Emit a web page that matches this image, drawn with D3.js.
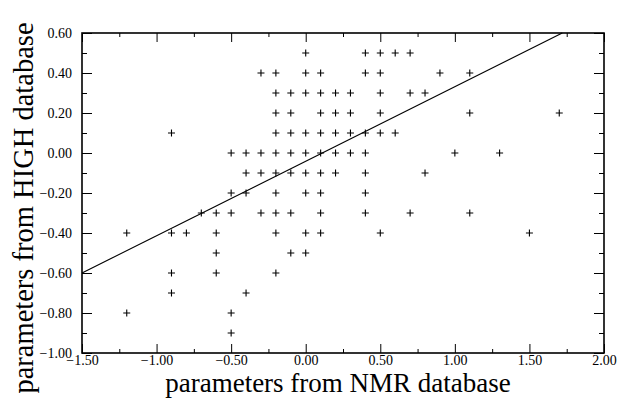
<!DOCTYPE html>
<html>
<head>
<meta charset="utf-8">
<script src="https://cdn.jsdelivr.net/npm/d3@7"></script>
<style>
  body { margin: 0; background: #fff; }
  svg { display: block; font-family: "Liberation Serif", "Times New Roman", serif; }
  .tick text { font-family: "Liberation Serif", "Times New Roman", serif; font-size: 14px; fill: #000; }
  .tick line { stroke: #000; stroke-width: 1; }
  .domain { display: none; }
</style>
</head>
<body>
<div id="chart"></div>
<script>
// NMR parameter (x) and HIGH parameter (y), one row of the plot per line
var nmrParams = [
  0.0, 0.4, 0.5, 0.6, 0.7,
  -0.3, -0.2, 0.0, 0.1, 0.4, 0.5, 0.9, 1.1,
  -0.2, -0.1, 0.0, 0.1, 0.2, 0.3, 0.5, 0.7, 0.8,
  -0.2, -0.1, 0.1, 0.2, 0.3, 0.5, 1.1, 1.7,
  -0.9, -0.2, -0.1, 0.0, 0.1, 0.2, 0.3, 0.4, 0.5, 0.6,
  -0.5, -0.4, -0.3, -0.2, -0.1, 0.0, 0.1, 0.2, 0.3, 0.4, 1.0, 1.3,
  -0.4, -0.3, -0.2, -0.1, 0.0, 0.1, 0.2, 0.4, 0.8,
  -0.5, -0.4, -0.2, 0.0, 0.1, 0.4,
  -0.7, -0.6, -0.5, -0.3, -0.2, -0.1, 0.1, 0.4, 0.7, 1.1,
  -1.2, -0.9, -0.8, -0.6, -0.2, 0.0, 0.1, 0.5, 1.5,
  -0.6, -0.1, 0.0,
  -0.9, -0.6, -0.2,
  -0.9, -0.4,
  -1.2, -0.5,
  -0.5
]
var highParams = [
  0.5, 0.5, 0.5, 0.5, 0.5,
  0.4, 0.4, 0.4, 0.4, 0.4, 0.4, 0.4, 0.4,
  0.3, 0.3, 0.3, 0.3, 0.3, 0.3, 0.3, 0.3, 0.3,
  0.2, 0.2, 0.2, 0.2, 0.2, 0.2, 0.2, 0.2,
  0.1, 0.1, 0.1, 0.1, 0.1, 0.1, 0.1, 0.1, 0.1, 0.1,
  0.0, 0.0, 0.0, 0.0, 0.0, 0.0, 0.0, 0.0, 0.0, 0.0, 0.0, 0.0,
  -0.1, -0.1, -0.1, -0.1, -0.1, -0.1, -0.1, -0.1, -0.1,
  -0.2, -0.2, -0.2, -0.2, -0.2, -0.2,
  -0.3, -0.3, -0.3, -0.3, -0.3, -0.3, -0.3, -0.3, -0.3, -0.3,
  -0.4, -0.4, -0.4, -0.4, -0.4, -0.4, -0.4, -0.4, -0.4,
  -0.5, -0.5, -0.5,
  -0.6, -0.6, -0.6,
  -0.7, -0.7,
  -0.8, -0.8,
  -0.9
]

// fitted line end points
var fitX = [-1.5, 1.72]
var fitY = [-0.6, 0.6]

var xTicks = [-1.5, -1.0, -0.5, 0.0, 0.5, 1.0, 1.5, 2.0]
var xMinorTicks = [-1.25, -0.75, -0.25, 0.25, 0.75, 1.25, 1.75]
var yTicks = [0.6, 0.4, 0.2, 0.0, -0.2, -0.4, -0.6, -0.8, -1.0]
var yMinorTicks = [0.5, 0.3, 0.1, -0.1, -0.3, -0.5, -0.7, -0.9]

var xTitle = 'parameters from NMR database'
var yTitle = 'parameters from HIGH database'

var W = 619, H = 404
var plot = { left: 82, right: 604, top: 33, bottom: 353 }
var serif = '"Liberation Serif", "Times New Roman", serif'

var svg = d3.select('#chart').append('svg')
  .attr('width', W)
  .attr('height', H)

var x = d3.scaleLinear().domain([-1.5, 2.0]).range([plot.left, plot.right])
var y = d3.scaleLinear().domain([-1.0, 0.6]).range([plot.bottom, plot.top])

function fmt(d) { return d3.format('.2f')(d) }

function addAxis(axis, tx, ty) {
  return svg.append('g')
    .attr('transform', 'translate(' + tx + ',' + ty + ')')
    .call(axis)
    .attr('font-family', serif)
    .attr('font-size', 14)
}

// bottom axis, labelled
addAxis(d3.axisBottom(x).tickValues(xTicks).tickFormat(fmt).tickSize(-9).tickSizeOuter(0).tickPadding(2), 0, plot.bottom)
addAxis(d3.axisBottom(x).tickValues(xMinorTicks).tickFormat('').tickSize(-4).tickSizeOuter(0), 0, plot.bottom)

// top axis, ticks only
addAxis(d3.axisTop(x).tickValues(xTicks).tickFormat('').tickSize(-9).tickSizeOuter(0), 0, plot.top)
addAxis(d3.axisTop(x).tickValues(xMinorTicks).tickFormat('').tickSize(-4).tickSizeOuter(0), 0, plot.top)

// left axis, labelled
addAxis(d3.axisLeft(y).tickValues(yTicks).tickFormat(fmt).tickSize(-10).tickSizeOuter(0).tickPadding(10), plot.left, 0)
addAxis(d3.axisLeft(y).tickValues(yMinorTicks).tickFormat('').tickSize(-5).tickSizeOuter(0), plot.left, 0)

// right axis, ticks only
addAxis(d3.axisRight(y).tickValues(yTicks).tickFormat('').tickSize(-10).tickSizeOuter(0), plot.right, 0)
addAxis(d3.axisRight(y).tickValues(yMinorTicks).tickFormat('').tickSize(-5).tickSizeOuter(0), plot.right, 0)

// frame
svg.append('rect')
  .attr('x', plot.left)
  .attr('y', plot.top)
  .attr('width', plot.right - plot.left)
  .attr('height', plot.bottom - plot.top)
  .attr('fill', 'none')
  .attr('stroke', '#000')
  .attr('stroke-width', 1.6)

// fitted line
var line = d3.line()
  .x(function(d) { return x(d[0]) })
  .y(function(d) { return y(d[1]) })

svg.append('path')
  .attr('d', line(d3.zip(fitX, fitY)))
  .attr('fill', 'none')
  .attr('stroke', '#000')
  .attr('stroke-width', 1.1)

// crosses
var arm = 3.5
svg.append('g')
  .selectAll('path.pt')
  .data(d3.zip(nmrParams, highParams))
  .enter()
  .append('path')
  .attr('class', 'pt')
  .attr('d', function(d) {
    var cx = x(d[0]), cy = y(d[1])
    return 'M' + (cx - arm) + ',' + cy + 'H' + (cx + arm) + 'M' + cx + ',' + (cy - arm) + 'V' + (cy + arm)
  })
  .attr('stroke', '#000')
  .attr('stroke-width', 1.1)
  .attr('fill', 'none')

// axis titles
svg.append('text')
  .attr('x', 338)
  .attr('y', 392)
  .attr('text-anchor', 'middle')
  .attr('font-size', 27)
  .text(xTitle)

svg.append('text')
  .attr('transform', 'translate(33,208) rotate(-90)')
  .attr('text-anchor', 'middle')
  .attr('font-size', 28.5)
  .text(yTitle)
</script>
</body>
</html>
